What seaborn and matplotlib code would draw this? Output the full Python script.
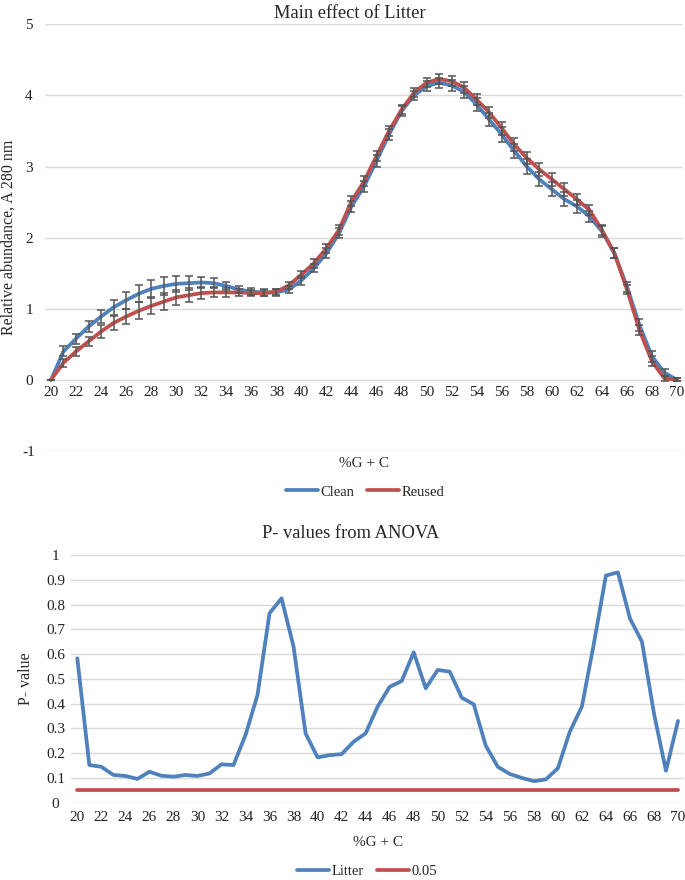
import pandas as pd
import matplotlib
matplotlib.use("Agg")
import matplotlib.pyplot as plt
from matplotlib.lines import Line2D
import seaborn as sns

# %G+C positions
gc = list(range(20, 71))

# top chart: relative abundance (A 280 nm)
clean = [0, 0.40, 0.58, 0.75, 0.89, 1.02, 1.12, 1.21, 1.28, 1.32,
         1.35, 1.36, 1.37, 1.36, 1.32, 1.27, 1.24, 1.23, 1.23, 1.27,
         1.40, 1.57, 1.78, 2.06, 2.44, 2.72, 3.08, 3.45, 3.78, 4.00,
         4.13, 4.18, 4.14, 4.05, 3.87, 3.66, 3.45, 3.22, 3.00, 2.82,
         2.68, 2.54, 2.44, 2.30, 2.09, 1.78, 1.31, 0.77, 0.33, 0.10, 0]
reused = [0, 0.24, 0.40, 0.54, 0.68, 0.80, 0.89, 0.97, 1.04, 1.10,
          1.16, 1.19, 1.22, 1.23, 1.23, 1.23, 1.22, 1.22, 1.24, 1.33,
          1.48, 1.64, 1.85, 2.11, 2.51, 2.79, 3.15, 3.50, 3.80, 4.04,
          4.18, 4.23, 4.20, 4.11, 3.94, 3.76, 3.54, 3.31, 3.12, 2.96,
          2.82, 2.68, 2.54, 2.39, 2.11, 1.78, 1.27, 0.70, 0.26, 0.02, 0]
clean_err = [0, .07, .07, .08, .09, .11, .12, .12, .13, .12,
             .11, .10, .08, .07, .06, .05, .05, .05, .05, .05,
             .06, .06, .07, .07, .08, .08, .08, .08, .07, .06,
             .07, .07, .08, .08, .09, .09, .10, .10, .10, .10,
             .10, .10, .09, .08, .08, .07, .07, .08, .08, .05, .02]
reused_err = [0, .06, .06, .07, .09, .10, .11, .12, .12, .12,
              .11, .10, .08, .07, .06, .05, .04, .04, .04, .05,
              .05, .06, .06, .07, .07, .07, .07, .07, .06, .06,
              .06, .07, .07, .08, .08, .08, .09, .09, .09, .09,
              .09, .09, .08, .07, .07, .07, .06, .07, .07, .04, .02]

# bottom chart: ANOVA p-values
p_litter = [0.583, 0.152, 0.145, 0.112, 0.108, 0.096, 0.125, 0.109, 0.105, 0.112,
            0.108, 0.118, 0.155, 0.152, 0.273, 0.435, 0.765, 0.825, 0.630, 0.280,
            0.183, 0.192, 0.196, 0.246, 0.280, 0.388, 0.468, 0.491, 0.607, 0.462,
            0.536, 0.529, 0.424, 0.397, 0.230, 0.145, 0.116, 0.100, 0.087, 0.094,
            0.139, 0.287, 0.388, 0.643, 0.917, 0.930, 0.744, 0.650, 0.360, 0.129, 0.330]
p_cut = [0.05] * len(gc)

BLUE = "#4F81BD"
RED = "#C0504D"
GRID = "#D9D9D9"
ERR = "#555555"
W, H = 685, 880

sns.set_style("white")
plt.rcParams["font.family"] = ["Liberation Serif", "DejaVu Serif"]
plt.rcParams["axes.unicode_minus"] = False

fig = plt.figure(figsize=(W / 100, H / 100), dpi=100)


def fx(px):
    return px / W


def fy(py):
    return 1 - py / H


def style_axis(ax, ypad):
    for s in ax.spines.values():
        s.set_visible(False)
    ax.yaxis.grid(True, color=GRID, lw=1)
    ax.xaxis.grid(False)
    ax.set_axisbelow(True)
    ax.set_xlim(19.5, 70.5)
    ax.set_xticks(range(20, 71, 2))
    ax.tick_params(axis="both", length=0, labelsize=11, colors="#222222")
    ax.tick_params(axis="y", pad=ypad)
    for lab in ax.get_yticklabels():
        lab.set_horizontalalignment("center")
    ax.set_xlabel("")
    ax.set_ylabel("")


# ---- top: main effect of litter
ax1 = fig.add_axes([fx(44.7), fy(451), fx(683.3) - fx(44.7), fy(24.3) - fy(451)])
df_top = pd.DataFrame({
    "gc": gc * 2,
    "abundance": clean + reused,
    "Litter": ["Clean"] * len(gc) + ["Reused"] * len(gc),
})
sns.lineplot(data=df_top, x="gc", y="abundance", hue="Litter",
             palette={"Clean": BLUE, "Reused": RED}, lw=2.7, legend=False,
             ax=ax1, zorder=2)
ax1.errorbar(gc, clean, yerr=clean_err, fmt="none", ecolor=ERR,
             elinewidth=1.1, capsize=2.7, capthick=1.1, zorder=3)
ax1.errorbar(gc, reused, yerr=reused_err, fmt="none", ecolor=ERR,
             elinewidth=1.1, capsize=2.7, capthick=1.1, zorder=3)
ax1.set_ylim(-1, 5)
ax1.set_yticks(range(-1, 6))
ax1.spines["bottom"].set_position(("data", 0))
style_axis(ax1, ypad=11.3)
ax1.tick_params(axis="x", pad=4.5)
for line in ax1.get_lines():
    line.set_solid_joinstyle("round")
    line.set_solid_capstyle("round")

fig.text(fx(350), fy(13), "Main effect of Litter", ha="center", va="center", fontsize=13.3)
fig.text(fx(9), fy(237), "Relative abundance, A 280 nm", ha="center", va="center",
         rotation=90, fontsize=11.5)
fig.text(fx(364), fy(463), "%G + C", ha="center", va="center", fontsize=11)
fig.legend([Line2D([], [], color=BLUE, lw=2.7), Line2D([], [], color=RED, lw=2.7)],
           ["Clean", "Reused"], loc="center", bbox_to_anchor=(fx(365), fy(492)),
           ncol=2, frameon=False, fontsize=10.5, handlelength=2.2,
           handletextpad=0.15, columnspacing=0.9)

# ---- bottom: p-values
ax2 = fig.add_axes([fx(71.3), fy(802.7), fx(684) - fx(71.3), fy(555) - fy(802.7)])
df_bot = pd.DataFrame({
    "gc": gc * 2,
    "p": p_litter + p_cut,
    "series": ["Litter"] * len(gc) + ["0.05"] * len(gc),
})
sns.lineplot(data=df_bot, x="gc", y="p", hue="series",
             palette={"Litter": BLUE, "0.05": RED}, lw=2.7, legend=False, ax=ax2)
ax2.set_ylim(0, 1)
ax2.set_yticks([i / 10 for i in range(11)])
ax2.set_yticklabels(["0"] + [f"{i / 10:g}" for i in range(1, 10)] + ["1"])
style_axis(ax2, ypad=11.4)
ax2.tick_params(axis="x", pad=6)
for line in ax2.get_lines():
    line.set_solid_joinstyle("round")
    line.set_solid_capstyle("round")

fig.text(fx(351), fy(533), "P- values from ANOVA", ha="center", va="center", fontsize=13.3)
fig.text(fx(26), fy(679), "P- value", ha="center", va="center", rotation=90, fontsize=11.5)
fig.text(fx(378), fy(842), "%G + C", ha="center", va="center", fontsize=11)
fig.legend([Line2D([], [], color=BLUE, lw=2.7), Line2D([], [], color=RED, lw=2.7)],
           ["Litter", "0.05"], loc="center", bbox_to_anchor=(fx(367), fy(871)),
           ncol=2, frameon=False, fontsize=10.5, handlelength=2.2,
           handletextpad=0.15, columnspacing=0.9)

fig.savefig("out.png", dpi=100)
plt.close(fig)
